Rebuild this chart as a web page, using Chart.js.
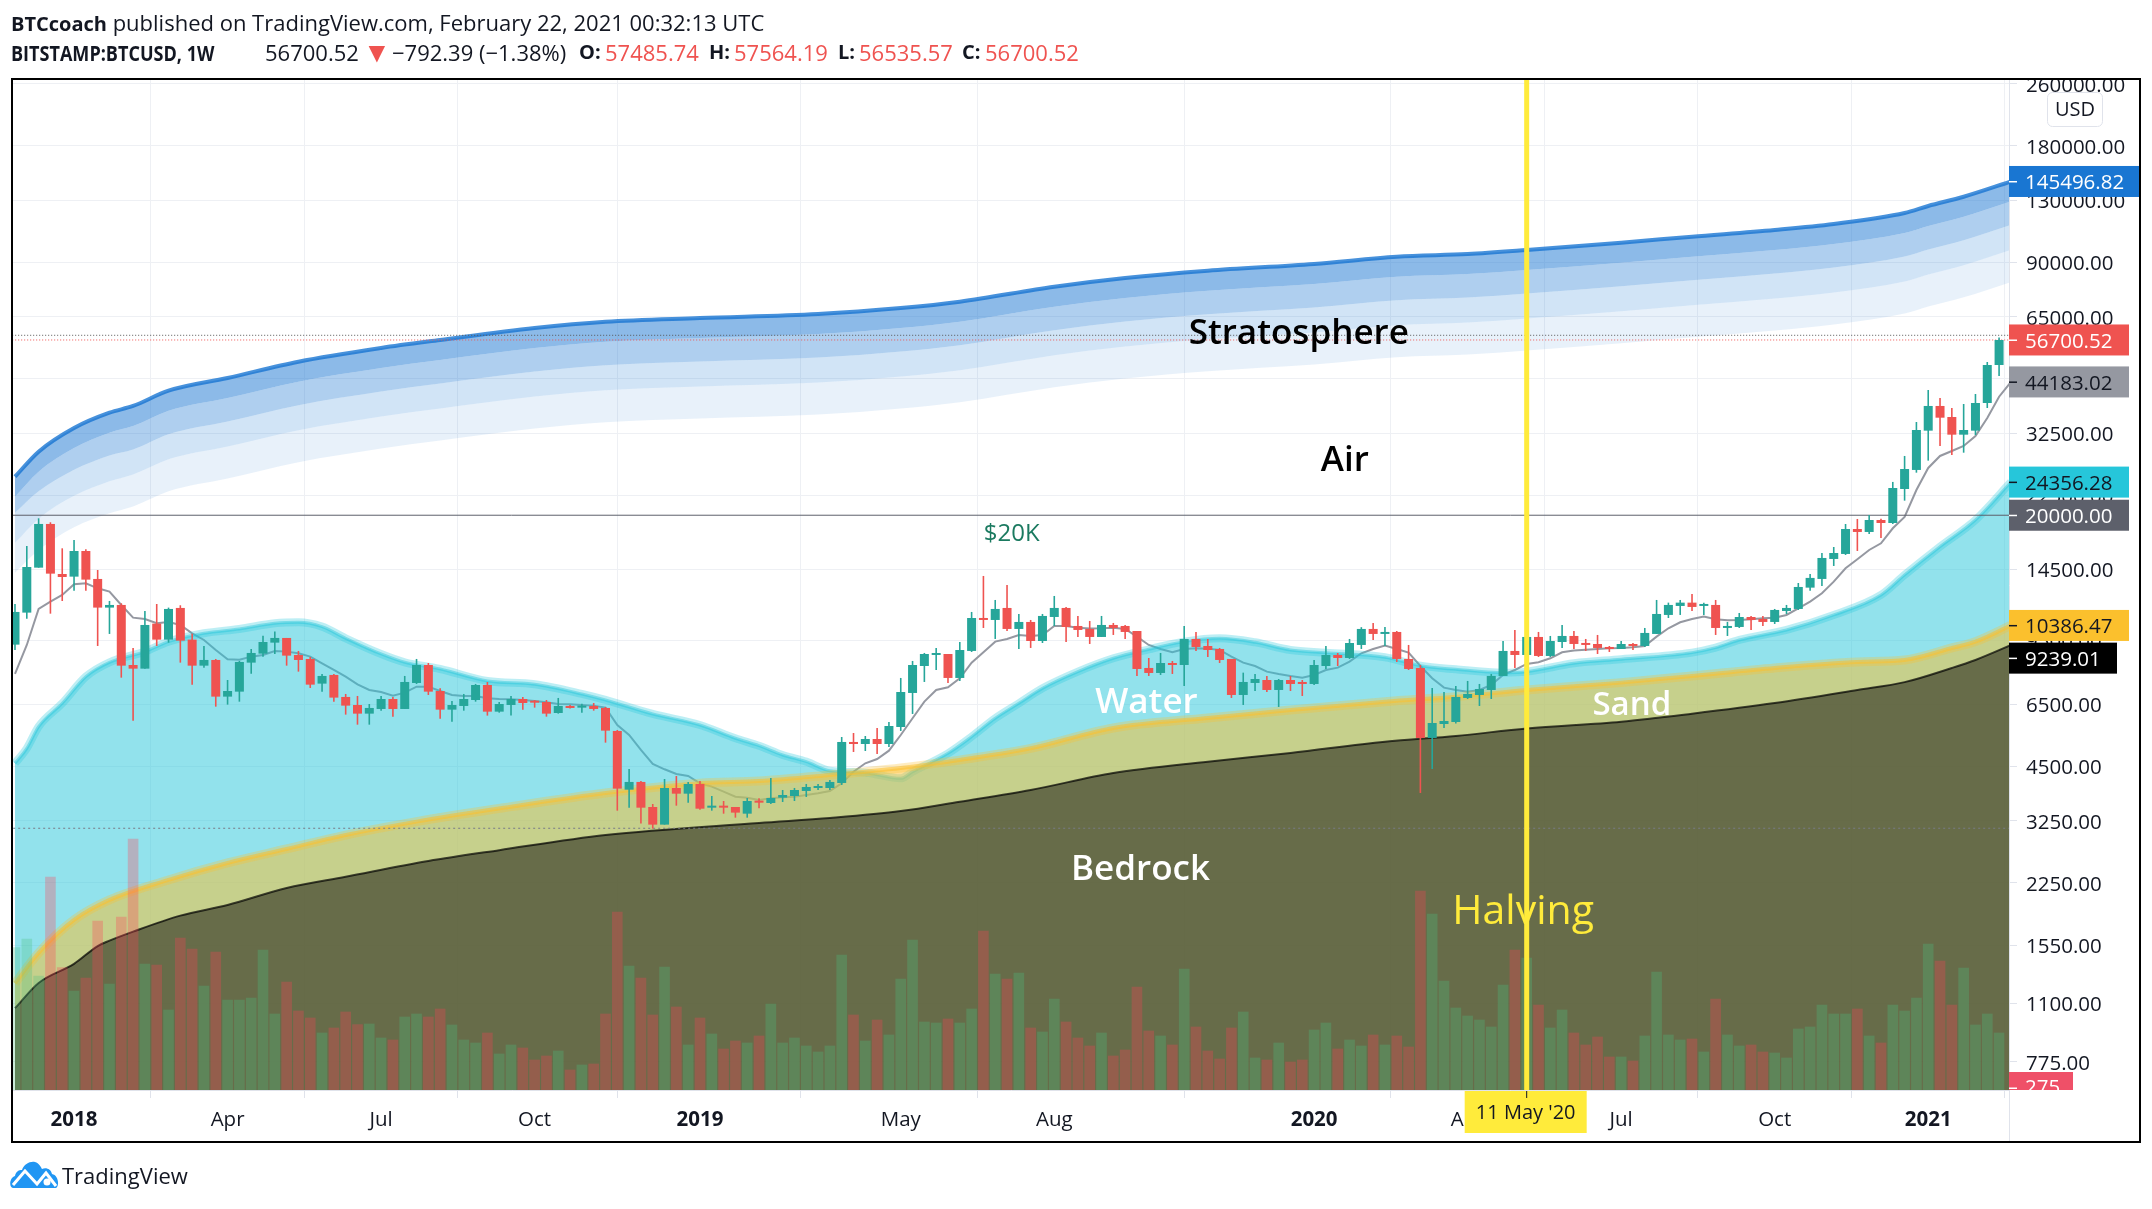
<!DOCTYPE html>
<html>
<head>
<meta charset="utf-8">
<title>BITSTAMP:BTCUSD, 1W</title>
<script src="https://cdn.jsdelivr.net/npm/chart.js@4"></script>
<style>
  html, body { margin: 0; padding: 0; background: #fff; width: 2152px; height: 1209px; overflow: hidden; }
  body { font-family: "Open Sans", sans-serif; color: #131722; }
  #chart { position: absolute; left: 0; top: 0; }
  #frame { position: absolute; left: 11px; top: 78px; width: 2130px; height: 1065px; box-sizing: border-box; border: 2px solid #000; pointer-events: none; }
  .hd { position: absolute; font-size: 22px; line-height: 28px; white-space: nowrap; }
  .b { font-weight: 700; font-size: 20px; }
  .r { color: #ef5350; }
  #logo { position: absolute; left: 10px; top: 1161px; }
</style>
</head>
<body>
<canvas id="chart" width="2152" height="1209"></canvas>
<div id="frame"></div>

<div class="hd" style="left:11px;top:8px"><span class="b">BTCcoach</span> published on TradingView.com, February 22, 2021 00:32:13 UTC</div>
<div class="hd b" style="left:11px;top:38px;font-size:22px;transform:scaleX(0.82);transform-origin:left">BITSTAMP:BTCUSD, 1W</div>
<div class="hd" style="left:265px;top:38px">56700.52</div>
<div class="hd r" style="left:363px;top:37px;font-size:28px">▼</div>
<div class="hd" style="left:392px;top:38px">−792.39 (−1.38%)</div>
<div class="hd b" style="left:579px;top:38px">O:</div><div class="hd r" style="left:605px;top:38px">57485.74</div>
<div class="hd b" style="left:709px;top:38px">H:</div><div class="hd r" style="left:734px;top:38px">57564.19</div>
<div class="hd b" style="left:838px;top:38px">L:</div><div class="hd r" style="left:859px;top:38px">56535.57</div>
<div class="hd b" style="left:962px;top:38px">C:</div><div class="hd r" style="left:985px;top:38px">56700.52</div>

<svg id="logo" width="50" height="28" viewBox="0 0 50 28">
  <path d="M3 27 C-1 27 -1 17 5 15 C6 10 9 9 12 9 C14 3 20 0 25 1 C29 2 31 6 32 8 C36 6 41 8 42 13 C48 14 50 24 46 27 Z" fill="#2196f3"/>
  <path d="M3 24 L15 10 L27 23 L36 12 L46 25" fill="none" stroke="#fff" stroke-width="3"/>
  <circle cx="37" cy="21" r="3.5" fill="#fff"/>
</svg>
<div class="hd" style="left:62px;top:1161px;font-size:22px">TradingView</div>

<script>
// weekly candles, first one is the week of 27 Nov 2017
const opens = [
  9267,11209,14645,18990,14105,13883,16172,13693,11548,11732,
  8211,8034,10500,9546,11525,9546,8178,8459,6802,7007,
  8326,8784,9377,9642,8714,8510,7349,7738,6789,6473,
  6148,6321,6708,6321,7378,8211,7035,6296,6435,6668,
  7290,6221,6473,6708,6602,6589,6172,6435,6371,6435,
  6359,5546,3912,4096,3529,3178,3951,3820,4047,3515,
  3529,3529,3392,3657,3614,3730,3768,3882,3951,3951,
  4071,5195,5133,5288,5133,5679,6952,8162,8714,8766,
  7601,8925,10857,10730,11525,10172,10604,9470,10923,11525,
  10354,10172,9699,10416,10354,10050,8066,7830,8309,8211,
  9584,9193,9031,8510,6870,7378,7510,7077,7510,7378,
  7334,8162,8714,8560,9249,10172,9874,9992,8510,8066,
  5320,5781,5850,6749,6870,7077,7692,8925,8714,9699,
  8663,9414,9757,9358,9303,9139,9031,9303,9193,9874,
  11055,11662,11895,11662,11732,10232,10293,10923,10794,10604,
  11320,11456,13004,13693,15421,15887,18432,18106,19445,19100,
  23380,26180,33070,38300,35870,32290,33070,38980,48860
];
const highs = [
  11800,16660,19640,19180,16430,17265,16333,14444,12014,11848,
  9085,11320,11800,11548,11710,9893,9193,8510,7510,8409,
  9031,9776,10012,9642,8925,8611,7784,7784,6911,6829,
  6511,6829,6789,7692,8510,8309,7147,6628,6911,7334,
  7422,6589,6829,6789,6668,6668,6749,6473,6524,6550,
  6397,5579,4424,4119,3593,4169,4244,4096,4119,3768,
  3657,3529,3723,3716,4194,3905,3952,4047,4047,4144,
  5351,5480,5383,5646,5850,7601,8409,8819,9085,8766,
  9414,11254,13939,12085,13213,11120,10730,11120,12376,11593,
  10989,10667,10989,10541,10416,10050,8560,8819,8409,10354,
  9992,9584,9085,8510,7845,7784,7692,7555,7692,7510,
  8459,9193,8819,9584,10280,10541,10293,10050,9249,8211,
  7161,6993,7247,7466,7334,7784,9470,10111,9900,9992,
  9757,10416,10050,9584,9815,9193,9470,9358,10232,12085,
  11895,12085,12523,11895,12085,10604,11186,10989,10989,11456,
  11732,13370,14105,15980,16561,18988,19562,20030,19600,24380,
  28450,34820,42120,40160,37840,38750,41130,49750,57564
];
const lows = [
  8977,10816,14645,11140,12010,12775,12775,9193,9874,7615,
  5897,8034,9193,9377,8326,7305,8082,6409,6486,6602,
  7799,8628,8766,8178,7892,7161,7007,6602,6112,5758,
  5758,6258,6039,6321,7334,6870,5968,5862,6258,6602,
  6076,6184,6076,6296,6371,6039,6148,6334,6184,6258,
  5174,3453,3515,3197,3103,3178,3557,3621,3474,3453,
  3392,3312,3312,3501,3593,3636,3657,3746,3905,3905,
  4023,4895,4924,4837,5042,5546,6136,7422,7970,7378,
  7466,8871,10232,9584,10050,9031,9085,9358,10354,9414,
  9699,9303,9699,9815,9584,7692,7692,7738,7784,7247,
  8925,8611,8309,6749,6473,7035,6993,6397,7035,6829,
  7290,8018,8162,8510,9031,9527,9193,8359,7970,3836,
  4424,5646,5800,6708,6435,6708,7692,8066,8600,8611,
  8611,9085,9031,8925,8766,8871,9031,8977,9139,9874,
  10857,11055,11320,11055,9815,9757,10232,10111,10354,10478,
  11120,11388,12774,13133,14792,15793,16172,17890,17470,18988,
  21810,25760,27670,30190,28620,29010,32230,37840,45760
];
const closes = [
  11254,14704,18990,14133,13855,16172,13638,11548,11732,8178,
  8034,10416,9546,11456,9488,8178,8459,6802,7035,8359,
  8819,9414,9642,8680,8459,7305,7692,6762,6448,6148,
  6359,6708,6321,7422,8211,7007,6296,6473,6708,7290,
  6221,6511,6708,6550,6563,6148,6435,6359,6448,6321,
  5557,3936,4096,3515,3178,3951,3820,4047,3494,3529,
  3515,3413,3657,3621,3723,3790,3905,3975,3975,4096,
  5195,5133,5288,5133,5713,6993,8211,8766,8766,7601,
  8977,10857,10730,11456,10172,10604,9470,10989,11525,10293,
  10111,9699,10416,10232,9992,8018,7830,8309,8211,9584,
  9139,8977,8459,6870,7422,7555,7077,7510,7334,7334,
  8211,8714,8560,9358,10172,9874,9992,8510,8018,5320,
  5815,5885,6789,6911,7119,7692,8925,8714,9699,8663,
  9470,9757,9303,9249,9085,9031,9303,9193,9933,11120,
  11732,11895,11593,11732,10232,10354,10923,10730,10604,11388,
  11525,13056,13778,15513,15980,18432,18106,19445,19100,23520,
  26330,33200,38300,35720,32290,33200,38980,48860,56700.52
];
const volumes = [
  428,454,343,640,368,298,337,508,319,520,
  754,379,376,241,457,424,313,415,271,271,
  277,421,229,325,238,217,172,187,235,197,
  199,157,151,220,229,220,244,196,151,142,
  172,109,136,127,91,103,118,61,76,79,
  229,535,373,337,226,370,250,136,217,169,
  124,148,142,163,259,142,157,133,115,133,
  406,226,148,211,166,334,451,205,202,214,
  202,244,478,349,334,352,187,175,274,205,
  157,133,172,103,121,310,178,163,136,364,
  190,118,94,187,235,97,91,142,85,91,
  181,202,124,151,133,166,136,163,130,598,
  529,328,247,223,211,190,316,421,397,256,
  187,241,172,136,160,100,100,88,163,355,
  166,151,154,115,274,166,133,136,115,112,
  97,184,190,256,229,229,244,163,142,256,
  238,277,439,388,256,367,196,229,172
];
// grey moving average, one value per week plus the one the axis tag shows
const maValues = [
  7783,9248,11456,11966,12449,13265,13344,12953,12699,11732,
  10880,10794,10520,10604,10416,9913,9527,8977,8493,8476,
  8628,8714,8925,8889,8801,8628,8293,7970,7661,7320,
  7077,6993,6842,6966,7218,7218,7035,6870,6829,6829,
  6735,6708,6695,6668,6628,6576,6511,6499,6473,6448,
  6371,5747,5415,4953,4558,4416,4294,4244,4063,3983,
  3866,3753,3730,3679,3716,3738,3753,3790,3828,3882,
  4063,4354,4576,4695,4933,5415,5980,6602,7077,7190,
  7585,8326,8854,9433,9584,9815,9757,9815,10354,10354,
  10252,10192,10212,10252,10172,9718,9249,9031,8854,9031,
  9067,9049,8977,8628,8326,8162,7892,7784,7692,7615,
  7738,7970,8082,8376,8801,9031,9212,9031,8836,8162,
  7585,7176,7077,7007,7077,7290,7738,7970,8260,8343,
  8543,8854,8943,8995,9031,9067,9085,9121,9193,9718,
  10212,10583,10794,10945,10773,10709,10730,10773,10838,10880,
  11055,11502,11966,12573,13477,14589,15390,16268,16926,18506,
  19796,23240,26490,28450,29310,30190,32040,35660,40470,44183.02
];

// stratosphere bands, read at these weeks
const bandWeeks = [0,2,5,8,10,13,18,24,31,36,44,50,58,68,75,80,88,94,101,110,117,123,128,136,142,149,154,160,162,165,169];
const bandTop = [25150,29190,33600,36800,38300,41940,45230,49830,54070,56700,60890,63210,64620,66170,68580,71200,77830,81980,85600,89090,93040,94540,96810,101100,104780,109040,113000,120640,125770,132900,145496.82];
const band2 = [22330,25920,29840,32680,34010,37240,40160,44250,48010,50350,54070,56130,57380,58760,60900,63230,69110,72800,76010,79110,82620,83950,85970,89780,93040,96830,100340,107130,111680,118010,129200];
const band3 = [20300,23060,26210,28540,29570,32380,34920,38470,41740,43770,47010,48800,49890,51080,52940,54970,60090,63290,66080,68780,71830,72980,74740,78050,80890,84180,87240,93130,97090,102600,112320];
const band4 = [16980,19600,22450,24490,25490,27910,30100,33160,35980,37730,40520,42070,43000,44040,45640,47380,51800,54560,56970,59290,61920,62920,64430,67280,69730,72570,75200,80290,83700,88450,96830];
const band5 = [14210,16260,18630,20240,21070,23070,24880,27410,29740,31190,33490,34770,35540,36390,37720,39160,42810,45090,47080,49000,51170,52000,53250,55610,57630,59970,62150,66350,69170,73100,80020];

const waterWeeks = [0,1,2,4,6,8,11,13,16,19,22,24,26,28,31,33,36,40,44,48,50,54,58,61,63,65,67,69,72,75,76,79,81,83,85,87,90,93,96,99,102,105,108,111,116,119,122,126,128,132,136,142,144,146,150,154,158,160,163,166,169];
const waterValues = [4576,5002,5690,6537,7661,8343,8889,9433,9913,10172,10520,10583,10313,9622,8766,8343,8018,7466,7320,6911,6668,6136,5747,5310,5082,4808,4621,4380,4328,4185,4354,4856,5362,5980,6537,7147,7892,8543,9013,9433,9622,9395,8977,8836,8594,8178,8002,7845,7892,8293,8493,8836,9103,9527,10111,11055,12450,14022,16594,19445,24356.28];

const sandWeeks = [0,2,5,8,13,18,23,28,34,42,50,58,63,69,75,79,86,93,101,108,116,122,128,136,142,149,156,160,164,166,169];
const sandValues = [1237,1482,1803,2031,2287,2530,2750,2987,3235,3536,3836,4067,4119,4269,4451,4621,5002,5646,5991,6283,6602,6802,7077,7393,7692,8066,8359,8459,9085,9433,10386.47];

const rockWeeks = [0,2,5,7,8,10,14,18,23,28,35,41,50,63,69,75,80,86,93,101,108,116,122,128,136,142,149,156,160,164,166,169];
const rockValues = [1067,1240,1389,1544,1594,1682,1850,1971,2181,2332,2560,2730,2987,3210,3306,3444,3643,3905,4318,4621,4866,5205,5385,5628,5861,6147,6550,7077,7415,8066,8459,9239.01];

// axis ticks
const priceTicks = [260000,180000,130000,90000,65000,45000,32500,22500,14500,9500,6500,4500,3250,2250,1550,1100,775];
const timeWeeks = [5,18,31,44,58,75,88,110,123,136,149,162];
const timeLabels = ["2018","Apr","Jul","Oct","2019","May","Aug","2020","Apr","Jul","Oct","2021"];
const yearLabels = ["2018","2019","2020","2021"];

// horizontal levels and the halving week
const levelRound = 20000;
const levelLow = 3110;
const levelHigh = 58300;
const levelClose = 56700.52;
const halvingWeek = 128;
const halvingLabel = "11 May '20";

// price tags on the right axis
const tagValues = [145496.82,56700.52,44183.02,24356.28,20000,10386.47,9239.01];
const tagLabels = ["145496.82","56700.52","44183.02","24356.28","20000.00","10386.47","9239.01"];
const tagColors = ["#1976d2","#ef5350","#9598a1","#26c6da","#5d606b","#fbc02d","#000000"];
const tagText = ["#ffffff","#ffffff","#131722","#131722","#ffffff","#131722","#ffffff"];

// drawing notes
const noteLabels = ["Stratosphere","Air","$20K","Water","Sand","Bedrock","Halving"];
const noteWeeks = [108.7,112.6,84.4,95.8,136.9,95.3,127.7];
const notePrices = [58760,27610,17840,6548,6433,2427,1890];

const fontName = '"Open Sans", sans-serif';
const up = "#26a69a";
const down = "#ef5350";

Chart.defaults.font.family = fontName;

function pts(xs, ys) {
  return xs.map((x, i) => ({ x: x, y: ys[i] }));
}

function lineSet(data, extra) {
  return Object.assign({
    type: "line", data: data, yAxisID: "y", pointRadius: 0, borderWidth: 0,
    fill: false, clip: 0, cubicInterpolationMode: "monotone"
  }, extra);
}

function barSet(data, color, thick, extra) {
  return Object.assign({
    type: "bar", data: data, yAxisID: "y", backgroundColor: color, grouped: false,
    barPercentage: 1, categoryPercentage: 1, maxBarThickness: thick,
    borderWidth: 0, borderSkipped: false, inflateAmount: 0, clip: 0
  }, extra);
}

const weeks = opens.map((o, i) => i);
const candleColors = opens.map((o, i) => (closes[i] >= o ? up : down));
const volColors = opens.map((o, i) => (closes[i] >= o ? "rgba(77,193,130,0.3)" : "rgba(255,63,85,0.3)"));
const bodies = weeks.map((i) => ({ x: i, y: [opens[i], closes[i]] }));
const wicks = weeks.map((i) => ({ x: i, y: [lows[i], highs[i]] }));
const volBars = weeks.map((i) => ({ x: i, y: volumes[i] }));
const maPts = maValues.map((v, i) => ({ x: i, y: v }));

const datasets = [
  // stratosphere, each band fills down to the next line
  lineSet(pts(bandWeeks, bandTop), { order: 100, borderColor: "rgba(25,118,210,0.8)", borderWidth: 4, fill: "+1", backgroundColor: "rgba(25,118,210,0.5)" }),
  lineSet(pts(bandWeeks, band2), { order: 101, fill: "+1", backgroundColor: "rgba(25,118,210,0.35)" }),
  lineSet(pts(bandWeeks, band3), { order: 102, fill: "+1", backgroundColor: "rgba(25,118,210,0.2)" }),
  lineSet(pts(bandWeeks, band4), { order: 103, fill: "+1", backgroundColor: "rgba(25,118,210,0.1)" }),
  lineSet(pts(bandWeeks, band5), { order: 104 }),

  // the moving average sits under the water
  lineSet(maPts, { order: 90, borderColor: "#9598a1", borderWidth: 2, cubicInterpolationMode: "default" }),

  lineSet(pts(waterWeeks, waterValues), { order: 80, fill: "start", backgroundColor: "rgba(38,198,218,0.5)", borderColor: "rgba(38,198,218,0.3)", borderWidth: 8 }),
  lineSet(pts(waterWeeks, waterValues), { order: 79, borderColor: "rgba(38,198,218,0.45)", borderWidth: 3 }),
  lineSet(pts(sandWeeks, sandValues), { order: 70, fill: "start", backgroundColor: "rgba(251,192,45,0.5)", borderColor: "rgba(251,192,45,0.3)", borderWidth: 9 }),
  lineSet(pts(sandWeeks, sandValues), { order: 69, borderColor: "rgba(251,192,45,0.55)", borderWidth: 4 }),
  lineSet(pts(rockWeeks, rockValues), { order: 60, fill: "start", backgroundColor: "rgba(0,0,0,0.48)", borderColor: "rgba(0,0,0,0.7)", borderWidth: 2 }),

  lineSet(pts([-1, 170], [levelHigh, levelHigh]), { order: 50, borderColor: "#555", borderWidth: 1, borderDash: [1, 2] }),
  lineSet(pts([-1, 170], [levelClose, levelClose]), { order: 49, borderColor: "#ef5350", borderWidth: 1, borderDash: [1, 2] }),
  lineSet(pts([-1, 170], [levelLow, levelLow]), { order: 48, borderColor: "#787b86", borderWidth: 1, borderDash: [2, 3] }),
  lineSet(pts([-1, 170], [levelRound, levelRound]), { order: 47, borderColor: "#5d606b", borderWidth: 1 }),

  barSet(volBars, volColors, 10.6, { order: 40, yAxisID: "yVol" }),
  barSet(wicks, candleColors, 1.6, { order: 30 }),
  barSet(bodies, candleColors, 9, { order: 29, minBarLength: 2 }),

  lineSet(pts([halvingWeek, halvingWeek], [656, 266000]), { order: 1, borderColor: "#ffeb3b", borderWidth: 5 })
];

// notes, price tags and the other bits the axes do not draw
const overlay = {
  id: "overlay",
  afterDatasetsDraw(chart) {
    const ctx = chart.ctx;
    const x = chart.scales.x;
    const y = chart.scales.y;
    const styles = [
      ["600 35px", "#000000"], ["600 35px", "#000000"], ["400 24px", "#1b7a60"],
      ["600 35px", "#ffffff"], ["600 33px", "#ffffff"], ["600 35px", "#ffffff"], ["400 41px", "#ffeb3b"]
    ];
    ctx.save();
    ctx.textAlign = "center";
    ctx.textBaseline = "middle";
    noteLabels.forEach((t, i) => {
      ctx.font = styles[i][0] + " " + fontName;
      ctx.fillStyle = styles[i][1];
      ctx.fillText(t, x.getPixelForValue(noteWeeks[i]), y.getPixelForValue(notePrices[i]));
    });
    ctx.restore();
  },
  afterDraw(chart) {
    const ctx = chart.ctx;
    const y = chart.scales.y;
    const x = chart.scales.x;
    const area = chart.chartArea;
    ctx.save();

    // the top tick is cut by the frame
    ctx.fillStyle = "#ffffff";
    ctx.fillRect(area.right, 60, 130, 20);

    ctx.font = "20.5px " + fontName;
    ctx.textBaseline = "middle";
    tagValues.forEach((v, i) => {
      let py = y.getPixelForValue(v);
      if (i === 6) py += 13; // pushed down by the tag above it
      const w = i === 0 ? 130 : i === 6 ? 108 : 120;
      ctx.fillStyle = tagColors[i];
      ctx.fillRect(area.right, py - 15.5, w, 31);
      ctx.fillStyle = tagText[i];
      ctx.fillRect(area.right, py - 0.5, 8, 1.5);
      ctx.fillText(tagLabels[i], area.right + 16, py + 2);
    });

    // volume tag, cut by the time axis
    ctx.save();
    ctx.beginPath();
    ctx.rect(area.right, 1072, 64, area.bottom - 1072);
    ctx.clip();
    ctx.fillStyle = "#ef5068";
    ctx.fillRect(area.right, 1072, 64, 18);
    ctx.fillStyle = "#ffffff";
    ctx.fillRect(area.right, 1087.5, 8, 1.5);
    ctx.fillText("275", area.right + 16, 1088);
    ctx.restore();

    // currency button
    ctx.fillStyle = "#ffffff";
    ctx.strokeStyle = "#e0e3eb";
    ctx.lineWidth = 1;
    ctx.beginPath();
    ctx.roundRect(2047.5, 92.5, 55, 34, 5);
    ctx.fill();
    ctx.stroke();
    ctx.fillStyle = "#131722";
    ctx.font = "20px " + fontName;
    ctx.textAlign = "center";
    ctx.fillText("USD", 2075, 110);

    // axis line carries on under the plot
    ctx.strokeStyle = "#e0e3eb";
    ctx.beginPath();
    ctx.moveTo(area.right + 0.5, area.bottom);
    ctx.lineTo(area.right + 0.5, 1141);
    ctx.stroke();

    // crosshair label on the time axis
    const hx = x.getPixelForValue(halvingWeek);
    ctx.fillStyle = "#ffeb3b";
    ctx.fillRect(hx - 62, area.bottom + 1, 122, 42);
    ctx.fillStyle = "#131722";
    ctx.fillRect(hx - 0.5, area.bottom + 1, 1, 7);
    ctx.font = "20px " + fontName;
    ctx.fillText(halvingLabel, hx - 1, area.bottom + 23);
    ctx.restore();
  }
};

new Chart(document.getElementById("chart"), {
  type: "bar",
  data: { datasets: datasets },
  plugins: [overlay],
  options: {
    responsive: false,
    animation: false,
    devicePixelRatio: 1,
    layout: { padding: { left: 13, top: 80, right: 12, bottom: 68 } },
    plugins: { legend: { display: false }, tooltip: { enabled: false }, title: { display: false } },
    scales: {
      x: {
        type: "linear",
        offset: false,
        min: -0.169,
        max: 168.84,
        afterBuildTicks(scale) {
          scale.ticks = timeWeeks.map((w) => ({ value: w }));
        },
        afterFit(scale) {
          scale.height = 51;
        },
        grid: { color: "#eef0f4", tickColor: "#e0e3eb", tickLength: 8 },
        border: { color: "#e0e3eb" },
        ticks: {
          autoSkip: false,
          maxRotation: 0,
          padding: 10,
          color: "#131722",
          font(c) {
            const label = c.tick ? timeLabels[timeWeeks.indexOf(c.tick.value)] : "";
            return { size: 20.5, weight: yearLabels.includes(label) ? "bold" : "normal" };
          },
          callback(v) {
            return timeLabels[timeWeeks.indexOf(v)];
          }
        }
      },
      y: {
        type: "logarithmic",
        position: "right",
        min: 656,
        max: 266000,
        afterBuildTicks(scale) {
          scale.ticks = priceTicks.map((v) => ({ value: v }));
        },
        afterFit(scale) {
          scale.width = 131;
        },
        grid: { color: "#eef0f4", tickColor: "#e0e3eb", tickLength: 8 },
        border: { color: "#e0e3eb" },
        ticks: {
          autoSkip: false,
          padding: 9,
          labelOffset: 2,
          color: "#131722",
          font: { size: 20.5 },
          callback(v) {
            return Number(v).toFixed(2);
          }
        }
      },
      yVol: { type: "linear", display: false, min: 0, max: 3030 }
    }
  }
});
</script>
</body>
</html>
